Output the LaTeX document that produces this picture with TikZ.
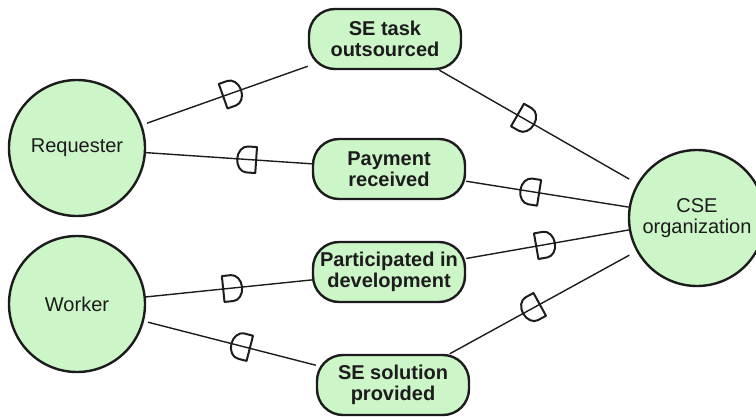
\documentclass[tikz,border=0pt]{standalone}
\usepackage{fontspec}
\setmainfont{Liberation Sans}
\usetikzlibrary{decorations.markings}
\definecolor{actorgreen}{RGB}{204,245,200}
\definecolor{inkdark}{RGB}{28,28,28}
\begin{document}
\begin{tikzpicture}[
        x=1pt, y=1pt,
        actor/.style={circle, draw=inkdark, line width=2.4pt, fill=actorgreen,
          minimum size=136pt, inner sep=0pt, align=center, text=inkdark,
          font=\fontsize{20}{21}\selectfont},
        goal/.style={rectangle, rounded corners=26pt, draw=inkdark, line width=2.4pt,
          fill=actorgreen, minimum width=152pt, minimum height=60pt, inner sep=1pt,
          align=center, text=inkdark, font=\fontsize{20}{20.5}\selectfont\bfseries},
        dlink/.style={draw=inkdark, line width=1.4pt, postaction={decorate},
          decoration={markings, mark=at position #1 with {
            \draw[draw=inkdark, line width=2pt, line join=round]
            (-9,13) -- (0,13) arc[start angle=90, end angle=-90, x radius=10pt, y radius=13pt]
            -- (-9,-13) -- cycle;}}}
      ]
      \useasboundingbox (0,0) rectangle (756,416);
      % actors
      \node[actor] (req) at (77,268) {Requester};
      \node[actor] (worker) at (77,112) {Worker};
      \node[actor] (cse) at (697,198) {CSE\\organization};
      % goals
      \node[goal] (task) at (385,377) {SE task\\outsourced};
      \node[goal] (pay) at (389,247) {Payment\\received};
      \node[goal] (part) at (389,144) {Participated in\\development};
      \node[goal] (sol) at (393,31) {SE solution\\provided};
      % dependency links, drawn towards the dependee
      \foreach \from/\to/\p/\s/\e in {%
        req/task/0.54/5/0,
        task/cse/0.435/0/9,
        pay/req/0.39/0/0,
        cse/pay/0.606/0/0,
        worker/part/0.52/0/0,
        part/cse/0.485/0/0,
        sol/worker/0.435/0/4,
        cse/sol/0.56/8/0%
      }{
        \draw[dlink=\p, shorten <=\s pt, shorten >=\e pt] (\from) -- (\to);
      }
    \end{tikzpicture}
\end{document}
